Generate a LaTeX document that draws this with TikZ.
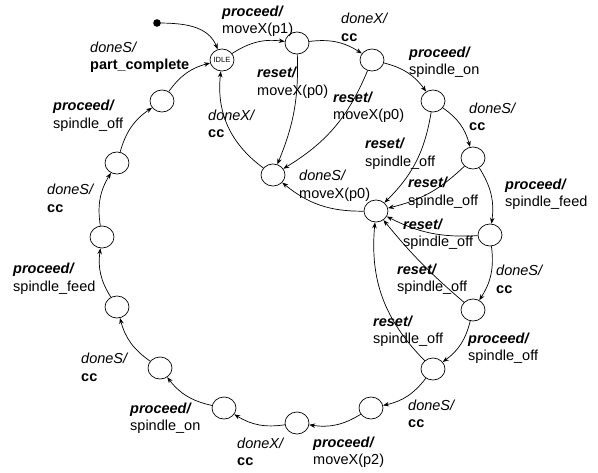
\documentclass[tikz,border=0pt]{standalone}
\usepackage{fontspec}
\setmainfont{Liberation Sans}
\usetikzlibrary{arrows.meta,shapes.geometric}
\newcommand\trig[1]{\textbf{\textit{#1}}}
\newcommand\done[1]{\textit{#1}}
\begin{document}
\begin{tikzpicture}[x=1pt,y=1pt,
  state/.style={draw,ellipse,minimum width=24pt,minimum height=22pt,inner sep=0pt,line width=0.7pt},
  lbl/.style={align=left,anchor=west,inner sep=0pt,font=\fontsize{14.5}{17.5}\selectfont},
  tr/.style={-{Stealth[length=6pt,width=4.5pt]},line width=0.7pt}
]
\useasboundingbox (0,0) rectangle (598,-472);

% start marker and states
\fill (157,-23) circle (3.8pt) coordinate (init);
\node[state,font=\fontsize{7.5}{8}\selectfont] (idle) at (222,-60) {IDLE};
\node[state] (p1)   at (297,-43)  {};
\node[state] (x1)   at (372,-60)  {};
\node[state] (on1)  at (433,-101) {};
\node[state] (s1)   at (473,-158) {};
\node[state] (fd1)  at (490,-235) {};
\node[state] (s2)   at (473,-310) {};
\node[state] (off1) at (433,-369) {};
\node[state] (s3)   at (371,-408) {};
\node[state] (mv2)  at (297,-423) {};
\node[state] (x2)   at (224,-408) {};
\node[state] (on2)  at (160,-368) {};
\node[state] (s4)   at (117,-307) {};
\node[state] (fd2)  at (102,-237) {};
\node[state] (s5)   at (117,-163) {};
\node[state] (off2) at (162,-101) {};
\node[state] (r0)   at (273,-175) {};
\node[state] (rh)   at (376,-211) {};

% main cycle
\draw[tr] (init) to[out=0,in=112] (idle);
\draw[tr] (idle) to[bend left=20] (p1);
\draw[tr] (p1) to[bend left=20] (x1);
\draw[tr] (x1) to[bend left=20] (on1);
\draw[tr] (on1) to[bend left=20] (s1);
\draw[tr] (s1) to[bend left=20] (fd1);
\draw[tr] (fd1) to[bend left=20] (s2);
\draw[tr] (s2) to[bend left=20] (off1);
\draw[tr] (off1) to[bend left=20] (s3);
\draw[tr] (s3) to[bend left=20] (mv2);
\draw[tr] (mv2) to[bend left=20] (x2);
\draw[tr] (x2) to[bend left=20] (on2);
\draw[tr] (on2) to[bend left=20] (s4);
\draw[tr] (s4) to[bend left=20] (fd2);
\draw[tr] (fd2) to[bend left=20] (s5);
\draw[tr] (s5) to[bend left=20] (off2);
\draw[tr] (off2) to[bend left=20] (idle);

% reset paths
\draw[tr] (p1) to[bend left=12] (r0);
\draw[tr] (x1) to[bend left=18] (r0);
\draw[tr] (r0) to[bend left=30] (idle);
\draw[tr] (rh) to[bend left=20] (r0);
\draw[tr] (on1) to[bend left=18] (rh);
\draw[tr] (s1) to[bend left=15] (rh);
\draw[tr] (fd1) to[bend left=15] (rh);
\draw[tr] (s2) to[bend left=5] (rh);
\draw[tr] (off1) to[bend left=25] (rh);

% labels of the main cycle
\node[lbl] (l1)  at (222,-21)   {\trig{proceed/}\\moveX(p1)};
\node[lbl] (l2)  at (341,-27.5) {\done{doneX/}\\\textbf{cc}};
\node[lbl] (l3)  at (409,-62)   {\trig{proceed/}\\spindle\_on};
\node[lbl] (l4)  at (469,-117)  {\done{doneS/}\\\textbf{cc}};
\node[lbl] (l5)  at (505,-194)  {\trig{proceed/}\\spindle\_feed};
\node[lbl] (l6)  at (496,-279.5){\done{doneS/}\\\textbf{cc}};
\node[lbl] (l7)  at (468,-348)  {\trig{proceed/}\\spindle\_off};
\node[lbl] (l8)  at (408,-414)  {\done{doneS/}\\\textbf{cc}};
\node[lbl] (l9)  at (313,-452)  {\trig{proceed/}\\moveX(p2)};
\node[lbl] (l10) at (237,-452)  {\done{doneX/}\\\textbf{cc}};
\node[lbl] (l11) at (130,-418)  {\trig{proceed/}\\spindle\_on};
\node[lbl] (l12) at (81,-367.5) {\done{doneS/}\\\textbf{cc}};
\node[lbl] (l13) at (13,-278.5) {\trig{proceed/}\\spindle\_feed};
\node[lbl] (l14) at (47,-198.5) {\done{doneS/}\\\textbf{cc}};
\node[lbl] (l15) at (53,-115.5) {\trig{proceed/}\\spindle\_off};
\node[lbl] (l16) at (90,-57)    {\done{doneS/}\\\textbf{part\_complete}};

% labels of the reset paths
\node[lbl] (m1) at (257,-82.5) {\trig{reset/}\\moveX(p0)};
\node[lbl] (m2) at (333,-107)  {\trig{reset/}\\moveX(p0)};
\node[lbl] (m3) at (208,-124)  {\done{doneX/}\\\textbf{cc}};
\node[lbl] (m4) at (299,-185.5){\done{doneS/}\\moveX(p0)};
\node[lbl] (m5) at (365,-153.5){\trig{reset/}\\spindle\_off};
\node[lbl] (m6) at (408,-192.5){\trig{reset/}\\spindle\_off};
\node[lbl] (m7) at (403,-234)  {\trig{reset/}\\spindle\_off};
\node[lbl] (m8) at (397,-279)  {\trig{reset/}\\spindle\_off};
\node[lbl] (m9) at (373,-331)  {\trig{reset/}\\spindle\_off};
\end{tikzpicture}
\end{document}
